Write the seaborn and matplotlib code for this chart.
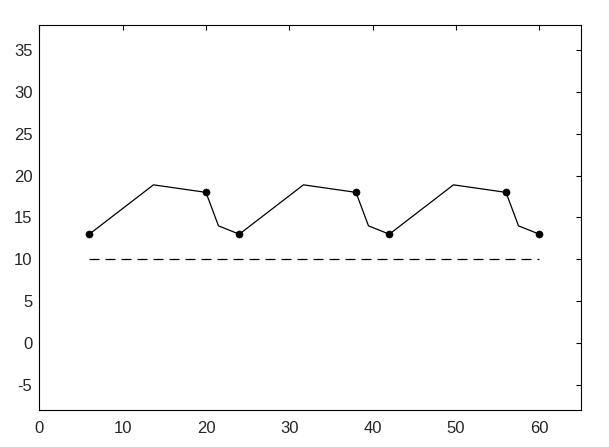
import numpy as np
import pandas as pd
import matplotlib
matplotlib.use("Agg")
import matplotlib.pyplot as plt
import seaborn as sns

# profile path (x, y)
path_x = [6, 13.7, 20, 21.5, 24, 31.7, 38, 39.5, 42, 49.7, 56, 57.5, 60]
path_y = [13, 18.9, 18, 14, 13, 18.9, 18, 14, 13, 18.9, 18, 14, 13]

# marked points
mark_x = [6, 20, 24, 38, 42, 56, 60]
mark_y = [13, 18, 13, 18, 13, 18, 13]

# reference level
ref_x = [6, 60]
ref_y = [10, 10]

sns.set_theme(style="white")
plt.rcParams['font.family'] = ['Liberation Sans', 'DejaVu Sans']
plt.rcParams['axes.unicode_minus'] = False

fig, ax = plt.subplots(figsize=(6.09, 4.47), dpi=100)
fig.subplots_adjust(left=0.0645, right=0.954, top=0.944, bottom=0.083)

path = pd.DataFrame({'x': path_x, 'y': path_y})
sns.lineplot(data=path, x='x', y='y', sort=False, color='black', linewidth=0.9, ax=ax)
sns.scatterplot(x=mark_x, y=mark_y, color='black', s=26, edgecolor='black', zorder=3, ax=ax)
sns.lineplot(x=ref_x, y=ref_y, color='black', linewidth=0.9, linestyle=(0, (8, 4.8)), ax=ax)

ax.set_xlim(0, 65)
ax.set_ylim(-8, 38)
ax.set_xticks(range(0, 61, 10))
ax.set_yticks(range(-5, 36, 5))
ax.set_xlabel('')
ax.set_ylabel('')
ax.tick_params(direction='in', length=3.6, width=0.8, top=True, right=True,
               labelsize=12, colors='black', labelcolor='#262626', pad=5)
ax.tick_params(axis='x', pad=8)
for sp in ax.spines.values():
    sp.set_color('black')
    sp.set_linewidth(0.8)

plt.savefig('out.png', dpi=100)
